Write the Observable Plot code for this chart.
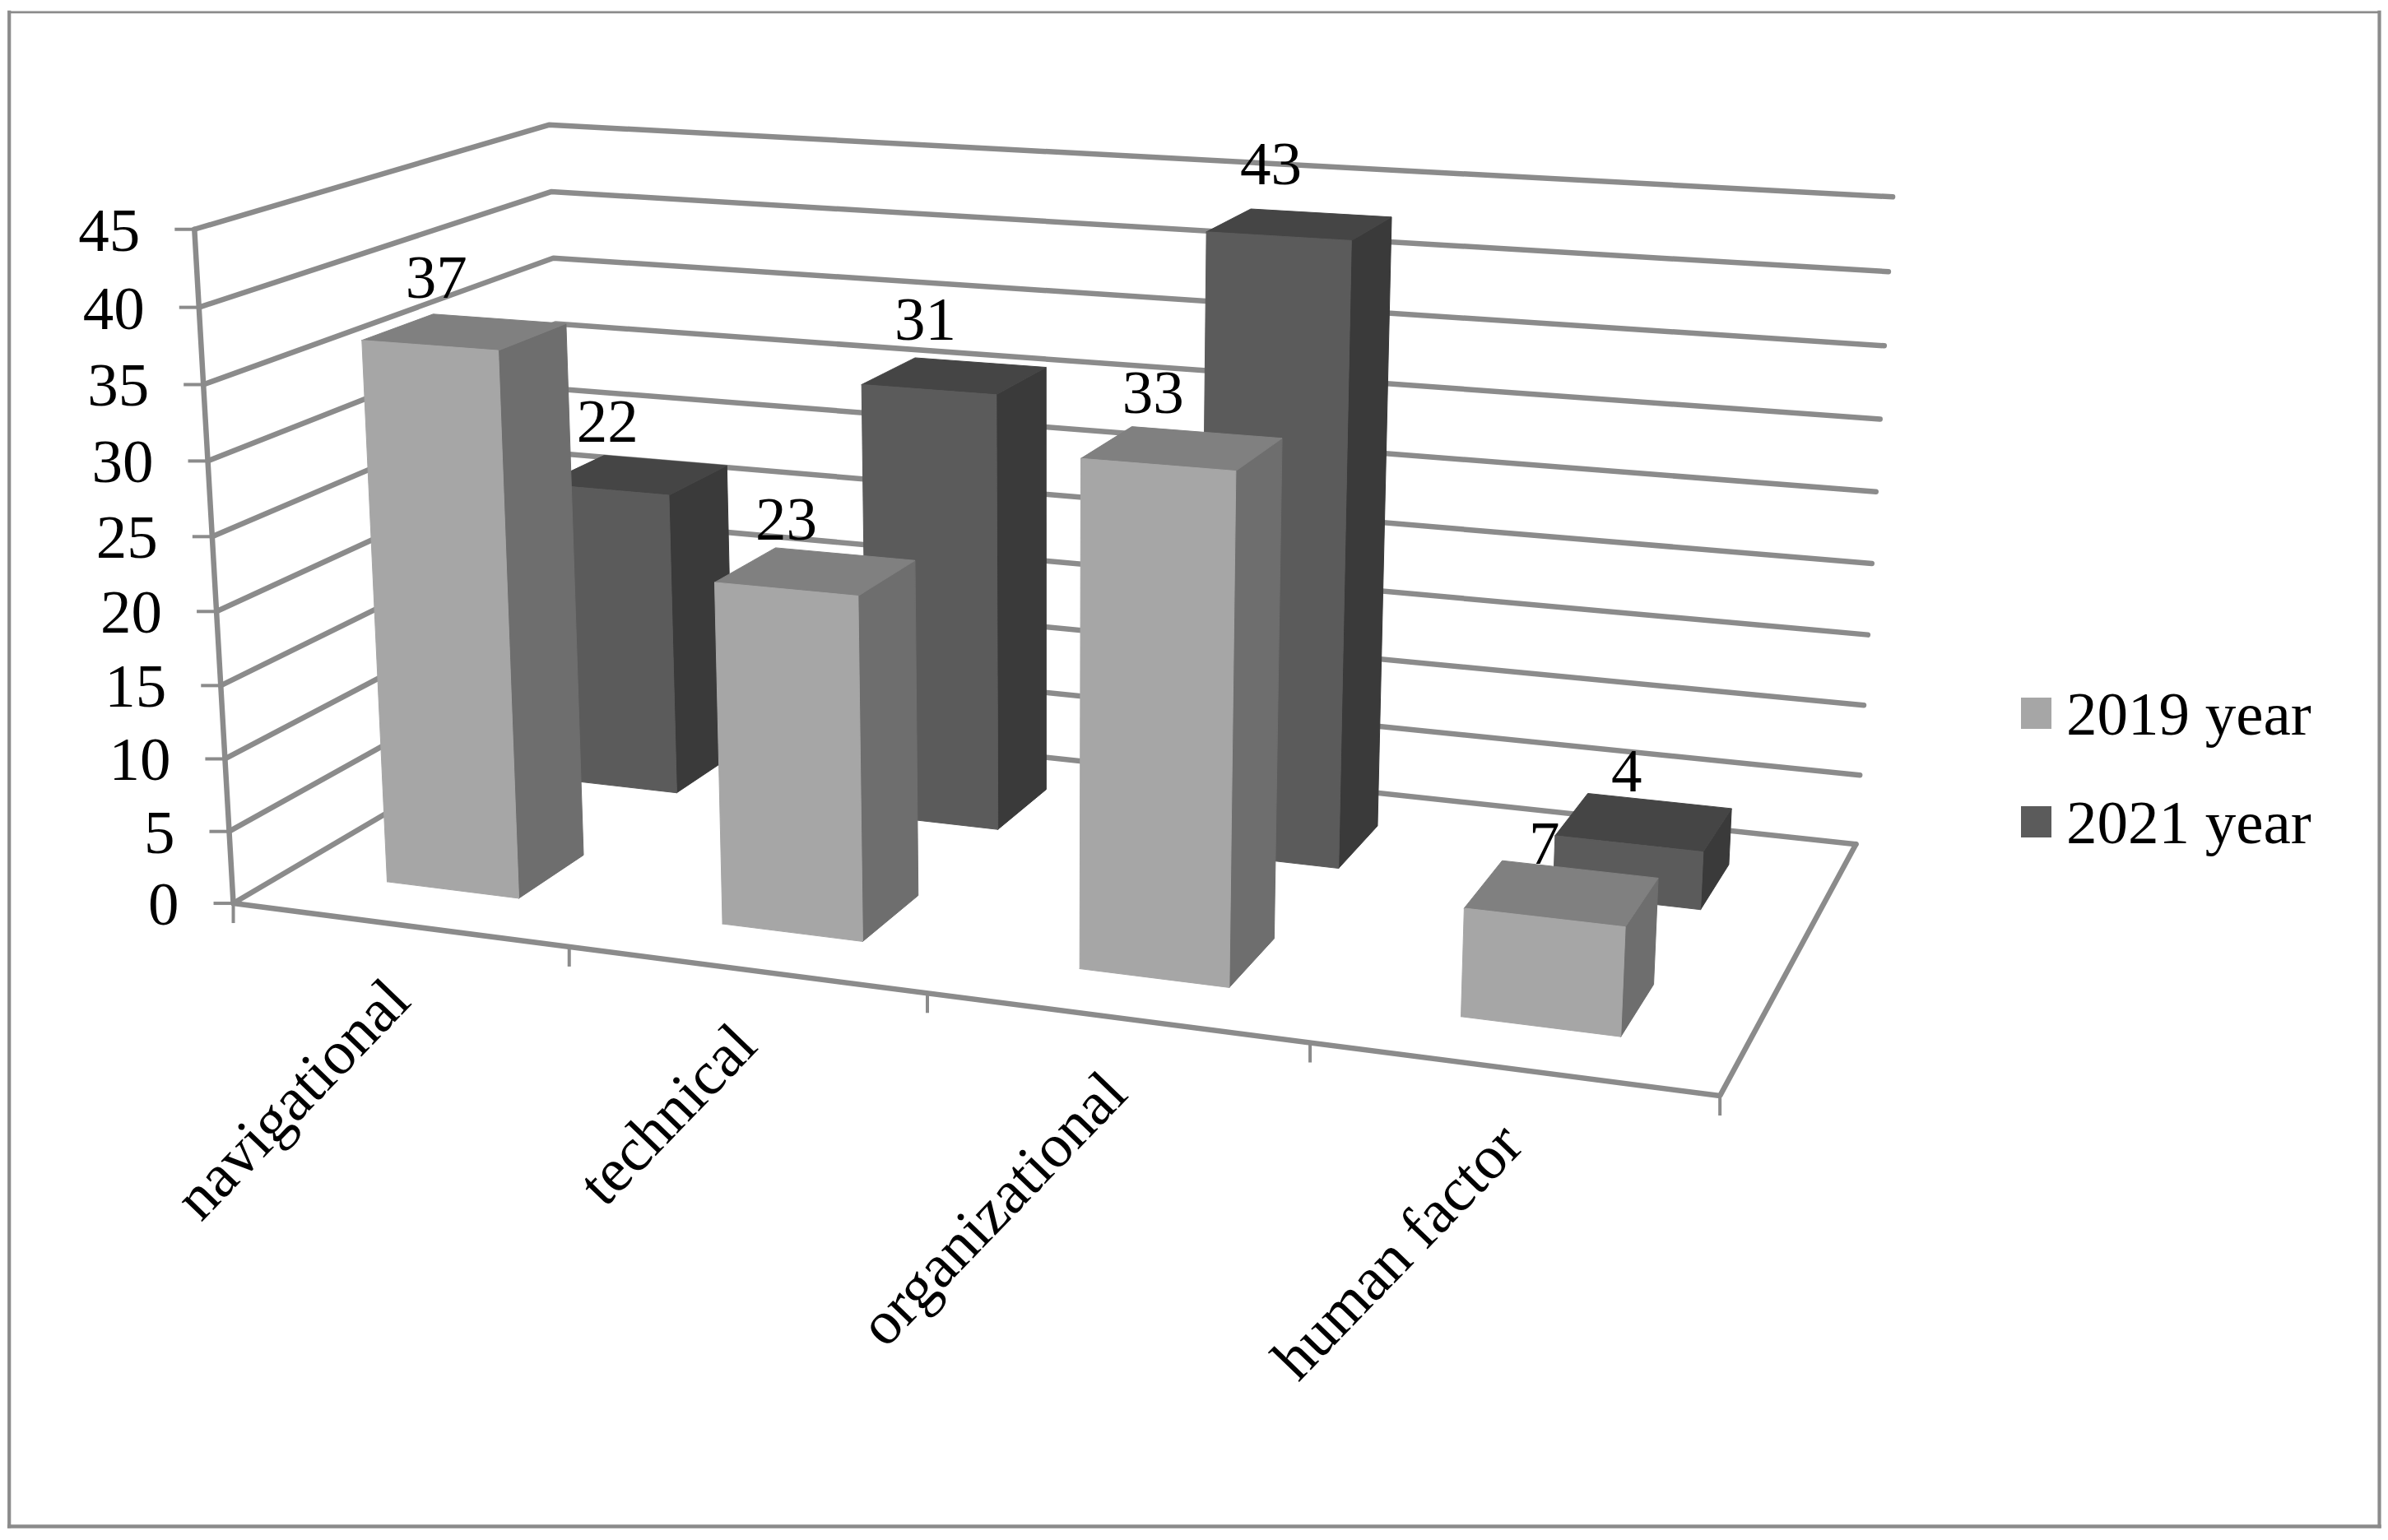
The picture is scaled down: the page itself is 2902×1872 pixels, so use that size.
<!DOCTYPE html>
<html>
<head>
<meta charset="utf-8">
<script src="https://cdn.jsdelivr.net/npm/d3@7"></script>
<script src="https://cdn.jsdelivr.net/npm/@observablehq/plot@0.6"></script>
<style>
html,body{margin:0;padding:0;background:#fff}
#wrap{position:relative;width:2902px;height:1872px;overflow:hidden}
.lg{position:absolute;display:flex;align-items:center;font:75px "Liberation Serif",serif;color:#000}
.lg i{display:block;width:37px;height:38px;margin-right:18px}
.lg span{display:block;line-height:1;white-space:nowrap}
</style>
</head>
<body>
<div id="wrap"></div>
<script>
// ---- chart values ----
const categories = ["navigational", "technical", "organizational", "human factor"];
const series = ["2019 year", "2021 year"];
const values2019 = [37, 23, 33, 7];
const values2021 = [22, 31, 43, 4];
const yTicks = [0, 5, 10, 15, 20, 25, 30, 35, 40, 45];

// ---- face tones ----
const frontTone = ["#a6a6a6", "#5b5b5b"];
const sideTone  = ["#6e6e6e", "#3a3a3a"];
const topTone   = ["#808080", "#454545"];
const ruleTone  = "#8b8b8b";

// ---- perspective camera, fitted to the visible box of the 3-D chart ----
// [category position, depth, value, screen x, screen y]
const anchors = [
  [0,0,45,237,279],[0,0,40,242,372],[0,0,35,247.5,467],[0,0,30,252.5,560],[0,0,25,257.6,653],
  [0,0,20,263,743],[0,0,15,268,833],[0,0,10,273,923],[0,0,5,277,1012],[0,0,0,281,1096],
  [1,0,0,689,1150],[2,0,0,1126,1206],[3,0,0,1592,1266],[4,0,0,2091,1331],
  [0,1,45,665,151],[0,1,40,668,232],[0,1,35,671,312.5],[0,1,0,694,858],
  [4,1,45,2299.5,239.3],[4,1,40,2295,330],[4,1,35,2289,420],[4,1,30,2284,508.7],[4,1,25,2280,596.7],[4,1,0,2253.5,1027]
];
function fitCamera(pts){
  const n = 11, A = Array.from({length:n},()=>new Array(n+1).fill(0));
  const add = (r,b)=>{for(let i=0;i<n;i++){for(let j=0;j<n;j++)A[i][j]+=r[i]*r[j];A[i][n]+=r[i]*b;}};
  for(const [u,d,v,x,y] of pts){
    const w=v/45;
    add([u,d,w,1,0,0,0,0,-x*u,-x*d,-x*w],x);
    add([0,0,0,0,u,d,w,1,-y*u,-y*d,-y*w],y);
  }
  for(let c=0;c<n;c++){
    let p=c;for(let r=c+1;r<n;r++)if(Math.abs(A[r][c])>Math.abs(A[p][c]))p=r;
    [A[c],A[p]]=[A[p],A[c]];
    for(let r=0;r<n;r++){if(r===c)continue;const f=A[r][c]/A[c][c];for(let k=c;k<=n;k++)A[r][k]-=f*A[c][k];}
  }
  return A.map((row,i)=>row[n]/row[i]);
}
const cam = fitCamera(anchors);
function project(u,d,v){
  const w=v/45, q=cam[8]*u+cam[9]*d+cam[10]*w+1;
  return [(cam[0]*u+cam[1]*d+cam[2]*w+cam[3])/q,(cam[4]*u+cam[5]*d+cam[6]*w+cam[7])/q];
}

// bar footprint within its category slot and depth rows
const barLo = 0.30, barHi = 0.70;
const depthRows = [[0.15,0.345],[0.65,0.85]];

// ---- build the faces ----
const faces = [];
function face(id,tone,corners){
  for(const c of [...corners,corners[0]]){
    const [x,y]=project(...c);
    faces.push({id,tone,x,y});
  }
}
[1,0].forEach(s=>{
  const vals = s===0?values2019:values2021;
  const [d0,d1]=depthRows[s];
  categories.forEach((c,i)=>{
    const a=i+barLo,b=i+barHi,v=vals[i];
    face(`${s}-${i}-side`,sideTone[s],[[b,d0,0],[b,d1,0],[b,d1,v],[b,d0,v]]);
    face(`${s}-${i}-top`,topTone[s],[[a,d0,v],[b,d0,v],[b,d1,v],[a,d1,v]]);
    face(`${s}-${i}-front`,frontTone[s],[[a,d0,0],[b,d0,0],[b,d0,v],[a,d0,v]]);
  });
});

// ---- walls, floor, axes ----
const rules = [];
function rule(id,corners){for(const c of corners){const [x,y]=project(...c);rules.push({id,x,y});}}
yTicks.forEach(v=>rule(`wall${v}`,[[0,0,v],[0,1,v],[4,1,v]]));
rule("floor",[[0,0,0],[4,0,0],[4,1,0]]);
rule("axis",[[0,0,45],[0,0,0]]);

// ---- value labels ----
const labelShift = [0.012, 0.032, 0.057, 0.109];
const labelLift = [21, 29];
const labels = [];
[0,1].forEach(s=>{
  const vals = s===0?values2019:values2021;
  categories.forEach((c,i)=>{
    const [x,y]=project(i+barLo+labelShift[i],depthRows[s][1],vals[i]*1.035);
    labels.push({x,y:y-labelLift[s],text:String(vals[i])});
  });
});

const allTones=[...frontTone,...sideTone,...topTone];
const chart = Plot.plot({
  width:2902,height:1872,
  marginLeft:10.7,marginRight:11,marginTop:14.3,marginBottom:17,
  x:{axis:null,domain:[0,2902],range:[0,2902]},
  y:{axis:null,domain:[0,1872],range:[0,1872]},
  color:{type:"ordinal",domain:allTones,range:allTones},
  style:{background:"#fff",color:"#000",fontFamily:'"Liberation Serif",serif'},
  marks:[
    Plot.frame({anchor:"top",stroke:ruleTone,strokeWidth:2.8,strokeLinecap:"square"}),
    Plot.frame({anchor:"left",stroke:ruleTone,strokeWidth:4.2,strokeLinecap:"square"}),
    Plot.frame({anchor:"right",stroke:ruleTone,strokeWidth:4.2,strokeLinecap:"square"}),
    Plot.frame({anchor:"bottom",stroke:ruleTone,strokeWidth:4.5,strokeLinecap:"square"}),
    Plot.line(rules,{x:"x",y:"y",z:"id",stroke:ruleTone,strokeWidth:6.5,strokeLinecap:"round",strokeLinejoin:"miter"}),
    // y ticks
    Plot.link(yTicks,{x1:v=>project(0,0,v)[0]-24,x2:v=>project(0,0,v)[0],y1:v=>project(0,0,v)[1],y2:v=>project(0,0,v)[1],stroke:ruleTone,strokeWidth:4}),
    // x ticks
    Plot.link([0,1,2,3,4],{x1:i=>project(i,0,0)[0],x2:i=>project(i,0,0)[0],y1:i=>project(i,0,0)[1],y2:i=>project(i,0,0)[1]+24,stroke:ruleTone,strokeWidth:4}),
    Plot.line(faces,{x:"x",y:"y",z:"id",fill:"tone",stroke:"tone",strokeWidth:1}),
    Plot.text(yTicks,{x:v=>project(0,0,v)[0],y:v=>project(0,0,v)[1],text:String,dx:-66,dy:2,textAnchor:"end",fontSize:75,fill:"#000"}),
    Plot.text(categories,{x:(c,i)=>project(i+0.5,0,0)[0],y:(c,i)=>project(i+0.5,0,0)[1],text:d=>d,dy:79,rotate:-46,textAnchor:"end",fontSize:75,fill:"#000"}),
    Plot.text(labels,{x:"x",y:"y",text:"text",fontSize:75,fill:"#000"})
  ]
});
const wrap=document.getElementById("wrap");
wrap.appendChild(chart);
chart.style.display="block";
// legend
series.forEach((s,k)=>{
  const el=document.createElement("div");
  el.className="lg";
  el.style.left="2456px";
  el.style.top=(k===0?831:963)+"px";
  el.style.height="72px";
  el.innerHTML=`<i style="background:${frontTone[k]}"></i><span>${s}</span>`;
  wrap.appendChild(el);
});
</script>
</body>
</html>
